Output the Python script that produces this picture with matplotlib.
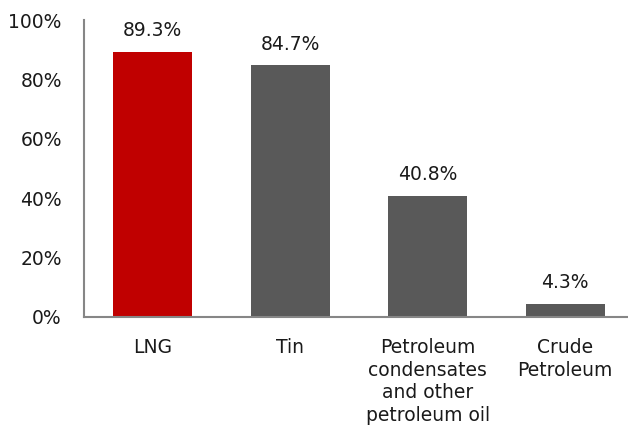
import matplotlib
matplotlib.use('Agg')
from matplotlib import pyplot as plt

categories = ['LNG', 'Tin', 'Petroleum\ncondensates\nand other\npetroleum oil',
              'Crude\nPetroleum']
shares = [89.3, 84.7, 40.8, 4.3]
colors = ['#C00000', '#595959', '#595959', '#595959']
yticks = [0, 20, 40, 60, 80, 100]

plt.rcParams['font.family'] = ['DejaVu Sans']
fs = 13.5

fig = plt.figure(figsize=(6.28, 4.34), dpi=100)
ax = fig.add_axes([84 / 628, (434 - 317) / 434, 1 - 84 / 628, 297 / 434])

x = list(range(len(categories)))
ax.bar(x, shares, width=0.575, color=colors)

for xi, v in zip(x, shares):
    ax.text(xi, v + 4, '{:.1f}%'.format(v), ha='center', va='bottom',
            fontsize=fs, color='#1a1a1a')

ax.set_xlim(-0.5, (628 - 84) / 137.5 - 0.5)
ax.set_ylim(0, 100)
ax.set_yticks(yticks)
ax.set_yticklabels(['{}%'.format(t) for t in yticks], fontsize=fs, color='#1a1a1a')
ax.set_xticks(x)
ax.set_xticklabels(categories, fontsize=fs, color='#1a1a1a', linespacing=1.25)
ax.tick_params(axis='both', length=0)
ax.tick_params(axis='x', pad=15)
ax.tick_params(axis='y', pad=16)

for s in ['top', 'right']:
    ax.spines[s].set_visible(False)
for s in ['left', 'bottom']:
    ax.spines[s].set_color('#868686')
    ax.spines[s].set_linewidth(1.5)

fig.savefig('out.png', dpi=100)
